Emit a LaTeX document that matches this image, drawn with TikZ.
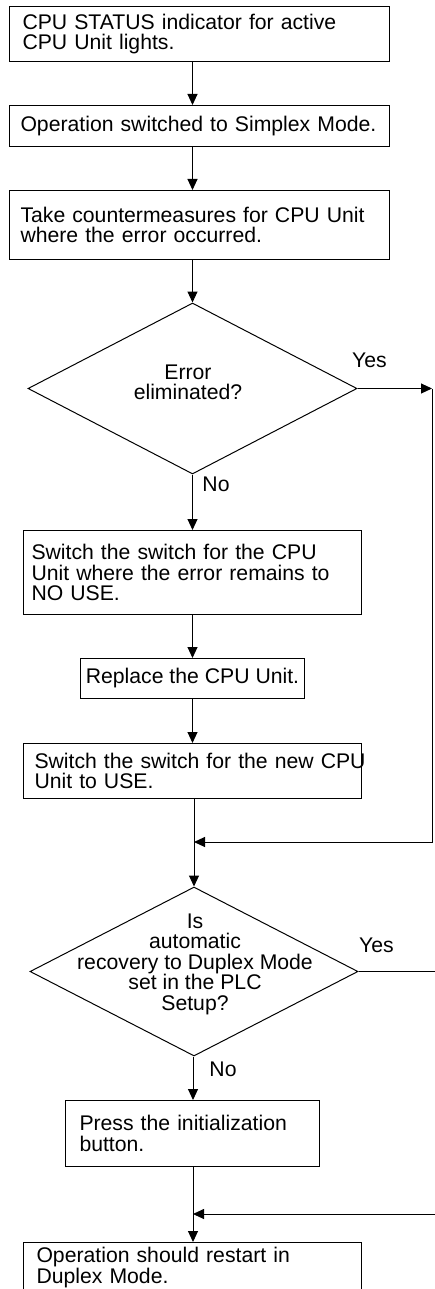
\documentclass[tikz,border=0pt]{standalone}
\usepackage{fontspec}
\setmainfont{Liberation Sans}
\usetikzlibrary{arrows.meta,shapes.geometric}

\tikzset{
    flowbox/.style={draw, rectangle, anchor=north west, align=left, inner ysep=0pt, line width=1pt},
    decision/.style={draw, diamond, inner sep=0pt, line width=1pt},
    flow/.style={-{Triangle[length=11pt,width=10pt]}, line width=1pt},
}

\begin{document}
\begin{tikzpicture}[x=1pt, y=-1pt, font=\fontsize{21.2pt}{20.5pt}\selectfont]
    \useasboundingbox (0,0) rectangle (435,1289);
    \clip (0,0) rectangle (435,1289);

    % Steps down to the first check
    \node[flowbox, text width=354pt, inner xsep=13pt, minimum height=55pt] (b1) at (9,6)
        {CPU STATUS indicator for active\\CPU Unit lights.};
    \node[flowbox, text width=358pt, inner xsep=11pt, minimum height=41pt] (b2) at (9,105)
        {Operation switched to Simplex Mode.};
    \node[flowbox, text width=358pt, inner xsep=11pt, minimum height=69pt] (b3) at (9,190)
        {Take countermeasures for CPU Unit\\where the error occurred.};

    % First check
    \node[decision, minimum width=329pt, minimum height=171pt] (q1) at (192.5,388.5) {};
    \node[align=center] (q1txt) at (188,382.5) {Error\\eliminated?};
    \node (yes1) at (369.5,360.5) {Yes};
    \node (no1) at (216,484.5) {No};

    % Replacement steps
    \node[flowbox, text width=322pt, inner xsep=8pt, minimum height=84pt] (b4) at (23,530)
        {Switch the switch for the CPU\\Unit where the error remains to\\NO USE.};
    \node[flowbox, align=center, inner xsep=1pt, minimum width=224pt, minimum height=40pt] (b5) at (80,658)
        {Replace the CPU Unit.};
    \node[flowbox, text width=316pt, inner xsep=11pt, minimum height=55pt] (b6) at (23,743)
        {\makebox[\linewidth][l]{Switch the switch for the new CPU}\\Unit to USE.};

    % Second check
    \node[decision, minimum width=328pt, minimum height=169pt] (q2) at (194,971.5) {};
    \node[align=center] (q2txt) at (195,964)
        {Is\\automatic\\recovery to Duplex Mode\\set in the PLC\\Setup?};
    \node (yes2) at (376.5,945.5) {Yes};
    \node (no2) at (223,1069) {No};

    % Last steps
    \node[flowbox, text width=226pt, inner xsep=14pt, minimum height=66pt] (b7) at (65,1100)
        {Press the initialization\\button.};
    \node[flowbox, text width=312pt, inner xsep=13pt, minimum height=50pt] (b8) at (23,1242)
        {Operation should restart in\\Duplex Mode.};

    % Loop-back points
    \coordinate (r1) at (432,388.5);
    \coordinate (m1) at (194,842);
    \coordinate (r2) at (445,971.5);
    \coordinate (r3) at (445,1214);
    \coordinate (m2) at (193,1214);

    % Main line
    \draw[flow] (q1 |- b1.south) -- (q1 |- b2.north);
    \draw[flow] (q1 |- b2.south) -- (q1 |- b3.north);
    \draw[flow] (q1 |- b3.south) -- (q1.north);
    \draw[flow] (q1.south) -- (q1 |- b4.north);
    \draw[flow] (q1 |- b4.south) -- (q1 |- b5.north);
    \draw[flow] (q1 |- b5.south) -- (q1 |- b6.north);
    \draw[flow] (q2 |- b6.south) -- (q2.north);
    \draw[flow] (m2 |- q2.south) -- (m2 |- b7.north);
    \draw[flow] (m2 |- b7.south) -- (m2 |- b8.north);

    % Yes branches
    \draw[flow] (q1.east) -- (r1);
    \draw[flow] (r1) |- (m1);
    \draw[line width=1pt] (q2.east) -- (r2);
    \draw[flow] (r3) -- (m2);
\end{tikzpicture}
\end{document}
